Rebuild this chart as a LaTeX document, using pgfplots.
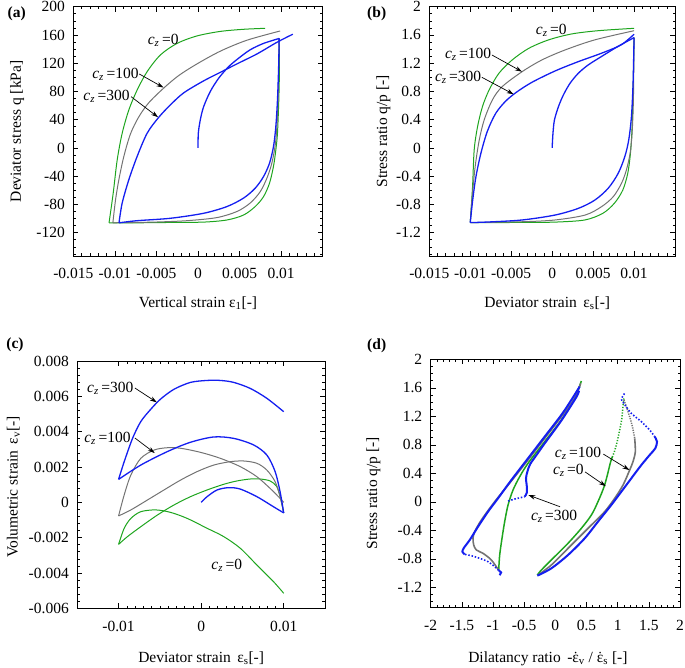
\documentclass[border=0pt]{standalone}
\usepackage{pgfplots}
\pgfplotsset{compat=1.18}
\usepackage{fontspec}
\setmainfont{Liberation Serif}
\usetikzlibrary{arrows.meta}
\definecolor{gcol}{RGB}{30,165,30}
\definecolor{kcol}{RGB}{115,115,115}
\definecolor{bcol}{RGB}{20,30,240}
\newcommand{\cz}[1]{{\itshape c}\textsubscript{\itshape z}\,=#1}
\newcommand{\edot}{\leavevmode\hbox{\ooalign{ε\cr\hidewidth ˙\hidewidth\cr}}}
\tikzset{lab/.style={-{Stealth[length=7pt,width=4.5pt]}, line width=0.7pt, black}}
\pgfplotsset{
  panel/.style={scale only axis, anchor=south west, axis line style={line width=0.9pt},
    scaled ticks=false,
    tick align=inside, major tick length=5pt, minor tick length=2.5pt,
    every tick/.append style={black, line width=0.6pt},
    xticklabel style={yshift=-9pt}, yticklabel style={xshift=-5pt},
    xlabel style={anchor=center}, ylabel style={anchor=center}},
  gl/.style={gcol, line width=1pt, smooth, tension=0.5},
  kl/.style={kcol, line width=1pt, smooth, tension=0.5},
  bl/.style={bcol, line width=1.3pt, smooth, tension=0.5},
}
\begin{document}
\begin{tikzpicture}[font=\fontsize{15.5}{18}\selectfont]
\useasboundingbox (0,0) rectangle (685pt,667pt);
%================ (a)
\begin{axis}[panel, at={(73.3pt,411pt)}, width=249.4pt, height=249.3pt,
  xmin=-0.015, xmax=0.015, ymin=-153, ymax=200,
  xtick={-0.015,-0.01,-0.005,0,0.005,0.01,0.015},
  xticklabels={-0.015,-0.01,-0.005,0,0.005,0.01,},
  minor x tick num=4,
  ytick={-160,-120,-80,-40,0,40,80,120,160,200},
  yticklabels={-160,-120,-80,-40,0,40,80,120,160,200},
  minor y tick num=3,
  xlabel={Vertical strain ε\textsubscript{1}[-]},
  ylabel={Deviator stress q [kPa]},
  xlabel style={at={(axis description cs:0.5,-0.189)}},
  ylabel style={at={(axis description cs:-0.225,0.5)}}]
% green
\addplot[gl] coordinates {(0.00976,155) (0.0098,115) (0.00972,68) (0.00956,21) (0.00936,-3) (0.00908,-26) (0.0086,-50) (0.00788,-69) (0.00688,-83) (0.00548,-95) (0.00348,-102) (0.00068,-105) (-0.00332,-105.5) (-0.00732,-106) (-0.0107,-106)};
\addplot[gl] coordinates {(-0.0107,-106) (-0.0102,-64) (-0.00972,-17) (-0.00912,20.8) (-0.00832,53.8) (-0.00732,82) (-0.00612,108) (-0.00452,131.7) (-0.00252,148) (-0.00012,158.6) (0.00268,165) (0.00548,168) (0.00808,169.4)};
% gray
\addplot[kl] coordinates {(0.00976,155) (0.00968,91.5) (0.00956,44) (0.00932,6.6) (0.00888,-21.7) (0.00828,-43) (0.00748,-62) (0.00628,-78) (0.00468,-90) (0.00228,-98.6) (-0.00132,-103) (-0.00532,-105) (-0.01024,-106)};
\addplot[kl] coordinates {(-0.01024,-106) (-0.00992,-73.6) (-0.00952,-45) (-0.00892,-12) (-0.00812,20) (-0.00712,44) (-0.00592,64) (-0.0041,85) (-0.00232,102.5) (-0.00012,119) (0.00268,137) (0.00588,152.5) (0.00988,165.6)};
% blue
\addplot[bl] coordinates {(0,0) (0.00004,21) (0.00028,40) (0.00068,58.5) (0.00148,80) (0.00248,98.6) (0.00368,115) (0.00488,127) (0.00628,139) (0.00788,148) (0.00976,155)};
\addplot[bl] coordinates {(0.00976,155) (0.0097,115) (0.00956,68) (0.00936,30) (0.00908,1.9) (0.0086,-21.7) (0.00788,-40.6) (0.00688,-57) (0.00548,-71) (0.00348,-83) (0.00068,-92.5) (-0.00332,-99.6) (-0.00732,-103) (-0.0095,-106)};
\addplot[bl] coordinates {(-0.0095,-106) (-0.00912,-78) (-0.00832,-45) (-0.00732,-12) (-0.00612,20.8) (-0.00475,43) (-0.00332,61) (-0.00172,78) (0.00068,95) (0.00268,107) (0.00468,119) (0.00708,133) (0.00948,149.5) (0.0114,161)};
\node at (axis cs:-0.00419,152.8) {\cz{0}};
\node at (axis cs:-0.00993,104.7) {\cz{100}};
\node at (axis cs:-0.011,72.6) {\cz{300}};
\draw[lab] (axis cs:-0.00706,104.7) -- (axis cs:-0.00415,85.5);
\draw[lab] (axis cs:-0.00805,72.6) -- (axis cs:-0.0048,43.5);
\end{axis}
%================ (b)
\begin{axis}[panel, at={(429.3pt,411pt)}, width=245.7pt, height=249.3pt,
  xmin=-0.015, xmax=0.015, ymin=-1.53, ymax=2,
  xtick={-0.015,-0.01,-0.005,0,0.005,0.01,0.015},
  xticklabels={-0.015,-0.01,-0.005,0,0.005,0.01,},
  minor x tick num=4,
  ytick={-1.6,-1.2,-0.8,-0.4,0,0.4,0.8,1.2,1.6,2},
  yticklabels={-1.6,-1.2,-0.8,-0.4,0,0.4,0.8,1.2,1.6,2},
  minor y tick num=3,
  xlabel={Deviator strain\, ε\textsubscript{s}[-]},
  ylabel={Stress ratio q/p [-]},
  xlabel style={at={(axis description cs:0.48,-0.189)}},
  ylabel style={at={(axis description cs:-0.187,0.5)}}]
\addplot[gl] coordinates {(0.01,1.562) (0.0099,0.92) (0.00976,0.30) (0.00956,-0.075) (0.00923,-0.36) (0.00863,-0.595) (0.00762,-0.78) (0.0062,-0.925) (0.00399,-1.02) (0.00036,-1.05) (-0.00367,-1.055) (-0.01,-1.057)};
\addplot[gl] coordinates {(-0.01,-1.057) (-0.00972,-0.55) (-0.00952,-0.028) (-0.00911,0.30) (-0.00851,0.585) (-0.0077,0.82) (-0.0065,1.057) (-0.00488,1.246) (-0.00286,1.41) (-0.00044,1.53) (0.00238,1.614) (0.0056,1.66) (0.01,1.694)};
\addplot[kl] coordinates {(0.01,1.562) (0.00992,0.68) (0.00976,0.208) (0.00952,-0.075) (0.00907,-0.31) (0.00847,-0.5) (0.00746,-0.69) (0.00605,-0.83) (0.00403,-0.95) (0.00036,-1.02) (-0.00367,-1.045) (-0.01,-1.057)};
\addplot[kl] coordinates {(-0.01,-1.057) (-0.0098,-0.736) (-0.0094,-0.264) (-0.0089,0.113) (-0.0083,0.396) (-0.0073,0.68) (-0.0061,0.868) (-0.00367,1.08) (-0.00125,1.246) (0.00157,1.387) (0.0052,1.53) (0.01,1.66)};
\addplot[bl] coordinates {(0,0) (0.0001,0.208) (0.00028,0.396) (0.00077,0.585) (0.00137,0.75) (0.00218,0.915) (0.00319,1.057) (0.0044,1.175) (0.006,1.293) (0.008,1.435) (0.01,1.562)};
\addplot[bl] coordinates {(0.01,1.562) (0.00988,0.915) (0.00968,0.444) (0.00935,0.113) (0.00887,-0.123) (0.00806,-0.36) (0.00685,-0.57) (0.00524,-0.736) (0.00323,-0.854) (0.00036,-0.95) (-0.00367,-1.02) (-0.0077,-1.048) (-0.01,-1.057)};
\addplot[bl] coordinates {(-0.01,-1.057) (-0.0097,-0.736) (-0.00931,-0.41) (-0.0087,-0.075) (-0.0079,0.24) (-0.00689,0.49) (-0.0057,0.66) (-0.00435,0.79) (-0.00246,0.93) (0.00036,1.09) (0.00319,1.222) (0.006,1.34) (0.00843,1.46) (0.01,1.61)};
\node at (axis cs:-0.0001,1.67) {\cz{0}};
\node at (axis cs:-0.01026,1.33) {\cz{100}};
\node at (axis cs:-0.01148,1.0) {\cz{300}};
\draw[lab] (axis cs:-0.00735,1.316) -- (axis cs:-0.00368,1.08);
\draw[lab] (axis cs:-0.00858,1.0) -- (axis cs:-0.0047,0.76);
\end{axis}
%================ (c)
\begin{axis}[panel, at={(77.3pt,58.7pt)}, width=247.7pt, height=247.3pt,
  xmin=-0.015, xmax=0.015, ymin=-0.006, ymax=0.008,
  xtick={-0.01,0,0.01}, xticklabels={-0.01,0,0.01},
  minor x tick num=9,
  extra x ticks={-0.015,0.015}, extra x tick labels={},
  ytick={-0.006,-0.004,-0.002,0,0.002,0.004,0.006,0.008},
  yticklabels={-0.006,-0.004,-0.002,0,0.002,0.004,0.006,0.008},
  minor y tick num=4,
  xlabel={Deviator strain\, ε\textsubscript{s}[-]},
  ylabel={Volumetric strain\, ε\textsubscript{v}[-]},
  xlabel style={at={(axis description cs:0.5,-0.202)}},
  ylabel style={at={(axis description cs:-0.258,0.49)}}]
\addplot[gl] coordinates {(0.01,-0.0006) (0.00962,0.00023) (0.00916,0.00089) (0.00835,0.00121) (0.00715,0.00132) (0.00594,0.00132) (0.00434,0.00121) (0.00273,0.00102) (0.00072,0.0007) (-0.00129,0.00032) (-0.00329,-0.00015) (-0.0053,-0.00072) (-0.00731,-0.00138) (-0.00892,-0.00194) (-0.01,-0.00238)};
\addplot[gl] coordinates {(-0.01,-0.00238) (-0.00932,-0.00147) (-0.00851,-0.00091) (-0.00731,-0.00053) (-0.0055,-0.00043) (-0.0037,-0.00057) (-0.00169,-0.00091) (0.00072,-0.00147) (0.00273,-0.00194) (0.00474,-0.0026) (0.00675,-0.00355) (0.00876,-0.00449) (0.01,-0.00515)};
\addplot[kl] coordinates {(0.01,-0.0006) (0.00956,0.00032) (0.00896,0.00117) (0.00795,0.00183) (0.00675,0.00221) (0.00514,0.00234) (0.00353,0.0023) (0.00153,0.00211) (-0.00048,0.00174) (-0.00249,0.00126) (-0.0045,0.0007) (-0.00651,0.00013) (-0.00851,-0.00043) (-0.01,-0.00077)};
\addplot[kl] coordinates {(-0.01,-0.00077) (-0.00932,0.00042) (-0.00851,0.00155) (-0.00731,0.00249) (-0.0057,0.00296) (-0.0041,0.00309) (-0.00249,0.00306) (-0.00008,0.00283) (0.00233,0.00249) (0.00474,0.00202) (0.00675,0.00145) (0.00835,0.00079) (0.00936,0.00032) (0.01,0.0)};
\addplot[bl] coordinates {(0,0) (0.00072,0.00032) (0.00193,0.0007) (0.00333,0.00083) (0.00474,0.00075) (0.00675,0.00032) (0.00876,-0.00025) (0.01,-0.0006)};
\addplot[bl] coordinates {(0.01,-0.0006) (0.00956,0.0006) (0.00896,0.00174) (0.00795,0.00268) (0.00635,0.00325) (0.00394,0.00362) (0.00153,0.0037) (-0.00129,0.0034) (-0.0041,0.00287) (-0.00731,0.00211) (-0.01,0.0013)};
\addplot[bl] coordinates {(-0.01,0.0013) (-0.00932,0.0023) (-0.00831,0.00362) (-0.00731,0.00457) (-0.0061,0.00527) (-0.0049,0.00585) (-0.00329,0.0064) (-0.00129,0.00679) (0.00072,0.0069) (0.00233,0.0069) (0.00394,0.00679) (0.00594,0.00645) (0.00795,0.00589) (0.01,0.00513)};
\node at (axis cs:-0.011,0.00647) {\cz{300}};
\node at (axis cs:-0.01135,0.00364) {\cz{100}};
\node at (axis cs:0.0031,-0.00355) {\cz{0}};
\draw[lab] (axis cs:-0.00802,0.00647) -- (axis cs:-0.00537,0.00566);
\draw[lab] (axis cs:-0.00802,0.00364) -- (axis cs:-0.00562,0.00279);
\end{axis}
%================ (d)
\begin{axis}[panel, at={(430.7pt,59.7pt)}, width=249.3pt, height=248pt,
  xmin=-2, xmax=2, ymin=-1.48, ymax=2,
  xtick={-2,-1.5,-1,-0.5,0,0.5,1,1.5,2},
  xticklabels={-2,-1.5,-1,-0.5,0,0.5,1,1.5,2},
  minor x tick num=4,
  ytick={-1.6,-1.2,-0.8,-0.4,0,0.4,0.8,1.2,1.6,2},
  yticklabels={-1.6,-1.2,-0.8,-0.4,0,0.4,0.8,1.2,1.6,2},
  minor y tick num=3,
  xlabel={Dilatancy ratio\, -\edot\textsubscript{v} / \edot\textsubscript{s} [-]},
  ylabel={Stress ratio q/p [-]},
  xlabel style={at={(axis description cs:0.47,-0.206)}},
  ylabel style={at={(axis description cs:-0.23,0.46)}}]
% green
\addplot[gcol, line width=1.5pt, dash pattern=on 1.2pt off 1.6pt, smooth] coordinates {(1.1,1.45) (1.08,1.3) (1.059,1.125) (0.979,0.798) (0.92,0.64)};
\addplot[gcol, line width=1.5pt, smooth, tension=0.5] coordinates {(0.92,0.64) (0.888,0.564) (0.791,0.236) (0.684,0.002) (0.578,-0.185) (0.417,-0.372) (0.203,-0.582) (-0.011,-0.769) (-0.225,-0.957) (-0.289,-1.027)};
\addplot[gcol, line width=1.5pt, smooth, tension=0.5] coordinates {(-0.909,-0.957) (-0.893,-0.746) (-0.856,-0.512) (-0.813,-0.278) (-0.759,-0.044) (-0.679,0.166) (-0.572,0.353) (-0.439,0.54) (-0.171,0.845) (0.096,1.149) (0.31,1.453) (0.417,1.696)};
% gray
\addplot[kcol, line width=1.5pt, dash pattern=on 1.2pt off 1.2pt, smooth] coordinates {(1.1,1.43) (1.166,1.265) (1.23,1.078) (1.273,0.891)};
\addplot[kcol, line width=1.6pt, smooth, tension=0.5] coordinates {(1.273,0.891) (1.283,0.704) (1.246,0.564) (1.193,0.447) (1.086,0.236) (0.952,0.049) (0.791,-0.138) (0.578,-0.325) (0.203,-0.653) (-0.064,-0.886) (-0.278,-1.027)};
\addplot[kcol, line width=1.6pt, smooth, tension=0.5] coordinates {(-0.909,-0.96) (-1.027,-0.816) (-1.16,-0.723) (-1.267,-0.676) (-1.31,-0.606) (-1.321,-0.512) (-1.294,-0.419) (-1.187,-0.255) (-0.973,0.002) (-0.706,0.292) (-0.439,0.587) (-0.171,0.891) (0.096,1.195) (0.31,1.453) (0.406,1.663)};
% blue
\addplot[bcol, line width=1.6pt, dash pattern=on 1.5pt off 1.8pt] coordinates {(-0.759,0.012) (-0.65,0.04) (-0.55,0.06) (-0.492,0.073)};
\addplot[bcol, line width=2pt, smooth, tension=0.5] coordinates {(-0.492,0.073) (-0.455,0.133) (-0.46,0.236) (-0.471,0.33) (-0.449,0.423) (-0.406,0.526) (-0.3,0.66) (-0.171,0.82) (0.096,1.14) (0.337,1.47) (0.38,1.56)};
\addplot[bcol, line width=1.6pt, dash pattern=on 1.5pt off 1.8pt, smooth, tension=0.5] coordinates {(1.11,1.52) (1.06,1.44) (1.1,1.38) (1.219,1.242) (1.38,1.125) (1.513,1.008) (1.594,0.915)};
\addplot[bcol, line width=2pt, smooth, tension=0.5] coordinates {(1.594,0.915) (1.631,0.844) (1.604,0.751) (1.513,0.657) (1.38,0.517) (1.219,0.33) (1.059,0.143) (0.898,-0.044) (0.684,-0.278) (0.471,-0.512) (0.203,-0.746) (-0.064,-0.933) (-0.289,-1.036)};
\addplot[bcol, line width=2pt] coordinates {(-0.893,-1.03) (-0.87,-0.99) (-0.91,-0.96)};
\addplot[bcol, line width=1.6pt, dash pattern=on 1.5pt off 1.8pt, smooth, tension=0.5] coordinates {(-0.91,-0.96) (-0.973,-0.91) (-1.08,-0.84) (-1.214,-0.793) (-1.348,-0.756) (-1.455,-0.737)};
\addplot[bcol, line width=2pt, smooth, tension=0.5] coordinates {(-1.455,-0.737) (-1.492,-0.699) (-1.465,-0.643) (-1.374,-0.536) (-1.24,-0.348) (-1.08,-0.138) (-0.92,0.049) (-0.706,0.306) (-0.439,0.61) (-0.171,0.915) (0.096,1.219) (0.257,1.43) (0.39,1.617)};
\node at (axis cs:0.364,0.685) {\cz{100}};
\node at (axis cs:0.209,0.446) {\cz{0}};
\node at (axis cs:-0.02,-0.209) {\cz{300}};
\draw[lab] (axis cs:0.77,0.67) -- (axis cs:1.188,0.446);
\draw[lab] (axis cs:0.477,0.42) -- (axis cs:0.809,0.22);
\draw[lab] (axis cs:0.075,-0.069) -- (axis cs:-0.433,0.095);
\end{axis}
\node[font=\bfseries\fontsize{15.5}{18}\selectfont] at (16.7pt,653.7pt) {(a)};
\node[font=\bfseries\fontsize{15.5}{18}\selectfont] at (376.7pt,653.7pt) {(b)};
\node[font=\bfseries\fontsize{15.5}{18}\selectfont] at (15pt,322pt) {(c)};
\node[font=\bfseries\fontsize{15.5}{18}\selectfont] at (376.7pt,321pt) {(d)};
\end{tikzpicture}
\end{document}
